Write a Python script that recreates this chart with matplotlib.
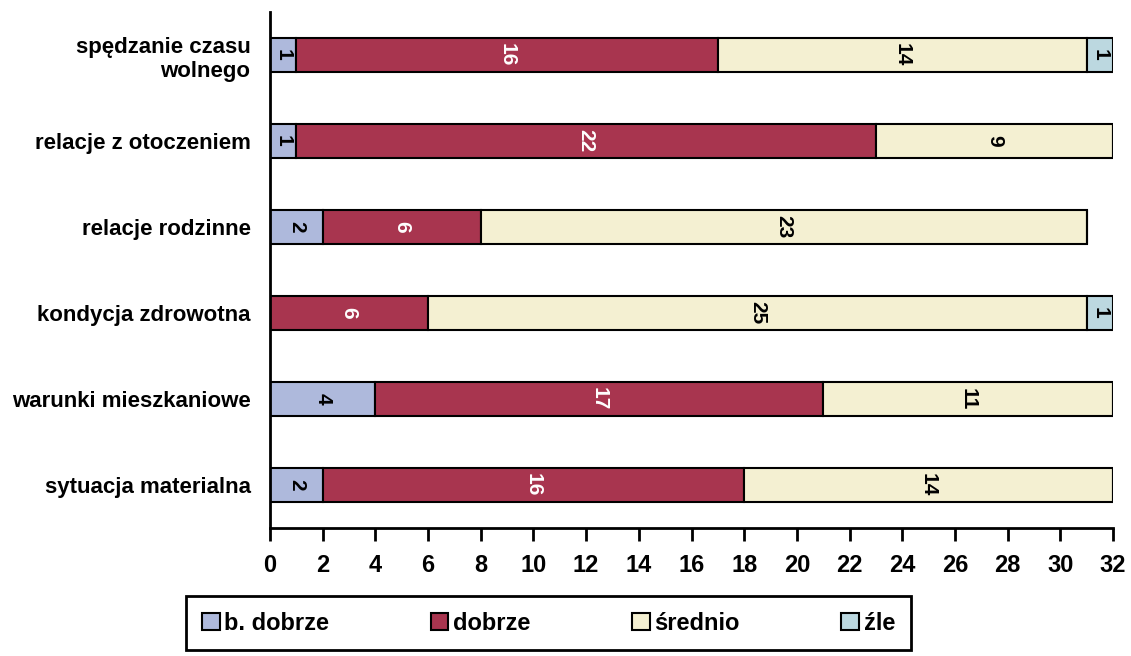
import numpy as np
import matplotlib
matplotlib.use('Agg')
import matplotlib.pyplot as plt

plt.rcParams['font.family'] = ['Liberation Sans', 'DejaVu Sans']
plt.rcParams['font.weight'] = 'bold'

categories = ['spędzanie czasu\nwolnego', 'relacje z otoczeniem', 'relacje rodzinne',
              'kondycja zdrowotna', 'warunki mieszkaniowe', 'sytuacja materialna']
series = ['b. dobrze', 'dobrze', 'średnio', 'źle']
b_dobrze = [1, 1, 2, 0, 4, 2]
dobrze = [16, 22, 6, 6, 17, 16]
srednio = [14, 9, 23, 25, 11, 14]
zle = [1, 0, 0, 1, 0, 0]

colors = ['#AEB9DC', '#A8354F', '#F4F0D2', '#BCD8E0']
text_colors = ['black', 'white', 'black', 'black']

fig = plt.figure(figsize=(11.31, 6.56), dpi=100)
ax = fig.add_axes([270 / 1131, 1 - 528 / 656, (1113 - 270) / 1131, (528 - 12) / 656])

y = np.arange(len(categories))[::-1]
left = np.zeros(len(categories))
for vals, name, col, tc in zip([b_dobrze, dobrze, srednio, zle], series, colors, text_colors):
    vals = np.array(vals, dtype=float)
    bars = ax.barh(y, vals, left=left, height=0.4, color=col, edgecolor='black',
                   linewidth=1.5, label=name)
    for b, v in zip(bars, vals):
        if v > 0:
            ax.text(b.get_x() + b.get_width() / 2, b.get_y() + b.get_height() / 2,
                    '%d' % v, rotation=-90, ha='center', va='center',
                    color=tc, fontsize=15, fontweight='bold')
    left += vals

ax.set_xlim(0, 32)
ax.set_ylim(-0.5, 5.5)
ax.set_xticks(np.arange(0, 33, 2))
ax.set_yticks(y)
ax.set_yticklabels(categories)
ax.tick_params(axis='y', length=0, pad=14, labelsize=16)
ax.tick_params(axis='x', direction='out', length=9, width=2, pad=10, labelsize=17)
for s in ['top', 'right']:
    ax.spines[s].set_visible(False)
for s in ['left', 'bottom']:
    ax.spines[s].set_linewidth(2)

leg = fig.legend(loc='center', bbox_to_anchor=(0.485, 0.05),
                 ncol=4, fancybox=False, edgecolor='black', framealpha=1,
                 fontsize=17, handlelength=0.75, handleheight=0.75, handletextpad=0.2,
                 columnspacing=4.3, borderpad=0.65)
leg.get_frame().set_linewidth(2)

fig.savefig('out.png', dpi=100)
